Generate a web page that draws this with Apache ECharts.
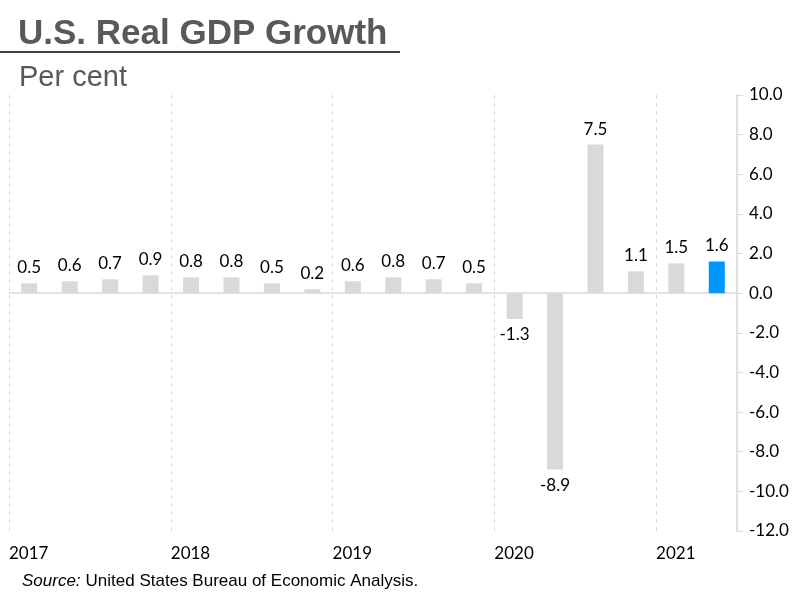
<!DOCTYPE html>
<html>
<head>
<meta charset="utf-8">
<script src="https://cdn.jsdelivr.net/npm/echarts@6/dist/echarts.min.js"></script>
<style>
  html, body { margin: 0; padding: 0; background: #fff; }
  #chart { width: 800px; height: 600px; }
</style>
</head>
<body>
<div id="chart"></div>
<script>
// quarterly real GDP growth, per cent
var quarters = ['2017Q1','2017Q2','2017Q3','2017Q4','2018Q1','2018Q2','2018Q3','2018Q4',
  '2019Q1','2019Q2','2019Q3','2019Q4','2020Q1','2020Q2','2020Q3','2020Q4','2021Q1','2021Q2'];
var growth = [0.5, 0.6, 0.7, 0.9, 0.8, 0.8, 0.5, 0.2, 0.6, 0.8, 0.7, 0.5, -1.3, -8.9, 7.5, 1.1, 1.5, 1.6];
var years = ['2017', '2018', '2019', '2020', '2021'];

var grey = '#d9d9d9';
var blue = '#0096ff';
var labelFont = 'Lato, "Open Sans", sans-serif';
var arial = '"Liberation Sans", Arial, sans-serif';

var barData = growth.map(function (v, i) {
  return {
    value: v,
    itemStyle: { color: i === growth.length - 1 ? blue : grey },
    label: { position: v < 0 ? 'bottom' : 'top' }
  };
});

var chart = echarts.init(document.getElementById('chart'));
chart.setOption({
  animation: false,
  backgroundColor: '#fff',
  title: [
    {
      text: 'U.S. Real GDP Growth',
      left: 13, top: 12,
      textStyle: { fontFamily: arial, fontSize: 35, fontWeight: 'bold', color: '#595959' }
    },
    {
      text: 'Per cent',
      left: 14, top: 58,
      textStyle: { fontFamily: arial, fontSize: 29, fontWeight: 'normal', color: '#595959' }
    },
    {
      text: '{i|Source:} {n|United States Bureau of Economic Analysis.}',
      left: 17, top: 567,
      textStyle: {
        fontWeight: 'normal',
        rich: {
          i: { fontFamily: arial, fontSize: 17, fontStyle: 'italic', fontWeight: 'normal', color: '#000' },
          n: { fontFamily: arial, fontSize: 17, fontWeight: 'normal', color: '#000' }
        }
      }
    }
  ],
  graphic: [
    { type: 'line', shape: { x1: 0, y1: 52, x2: 400, y2: 52 }, style: { stroke: '#000', lineWidth: 1.5 } }
  ],
  grid: { left: 9, right: 63, top: 95, bottom: 69 },
  xAxis: [
    {
      type: 'category',
      data: quarters,
      axisLine: { onZero: true, lineStyle: { color: grey, width: 1.5 } },
      axisTick: { show: false },
      axisLabel: { show: false },
      splitLine: { show: false }
    },
    {
      type: 'value',
      position: 'bottom',
      min: 0, max: 18, interval: 4,
      axisLine: { show: false },
      axisTick: { show: false },
      splitLine: { show: true, lineStyle: { color: grey, type: [4, 4], width: 1 } },
      axisLabel: {
        align: 'left',
        margin: 14,
        fontSize: 17,
        color: '#000',
        fontFamily: labelFont,
        showMaxLabel: false,
        formatter: function (v) { return v % 4 === 0 ? years[v / 4] : ''; }
      }
    }
  ],
  yAxis: {
    type: 'value',
    position: 'right',
    min: -12, max: 10, interval: 2,
    axisLine: { show: true, onZero: false, lineStyle: { color: grey, width: 1.5 } },
    axisTick: { show: true, length: 6, lineStyle: { color: grey } },
    splitLine: { show: false },
    axisLabel: {
      margin: 12,
      fontSize: 17,
      color: '#000',
      fontFamily: labelFont,
      formatter: function (v) { return v.toFixed(1); }
    }
  },
  series: [{
    type: 'bar',
    xAxisIndex: 0,
    data: barData,
    barWidth: 16,
    label: {
      show: true,
      distance: 7,
      fontSize: 17,
      color: '#000',
      fontFamily: labelFont,
      formatter: function (p) { return p.value.toFixed(1); }
    }
  }]
});
</script>
</body>
</html>
